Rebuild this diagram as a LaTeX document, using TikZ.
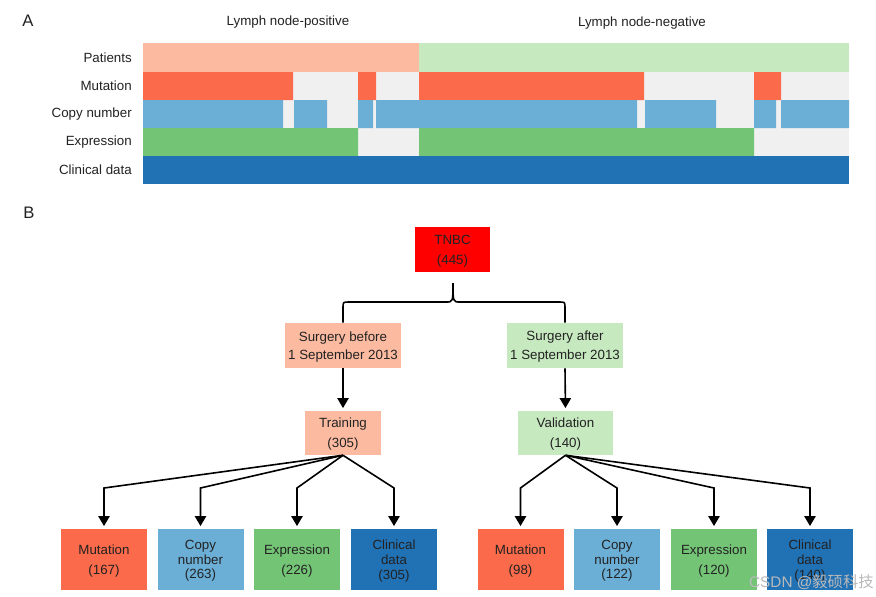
\documentclass[tikz,border=0pt]{standalone}
\usepackage{fontspec}
\setmainfont{Liberation Sans}
\newfontfamily\cjkfont{Noto Sans CJK SC}
\usetikzlibrary{arrows.meta}

\definecolor{poscol}{HTML}{FCBBA1}
\definecolor{negcol}{HTML}{C7E9C0}
\definecolor{mutcol}{HTML}{FB6A4A}
\definecolor{cnvcol}{HTML}{6BAED6}
\definecolor{expcol}{HTML}{74C476}
\definecolor{clincol}{HTML}{2171B5}
\definecolor{nacol}{HTML}{F0F0F0}
\definecolor{tnbccol}{HTML}{FF0000}
\definecolor{txtcol}{HTML}{222222}

\newcommand{\pxscl}{0.75}
\newcommand{\px}[1]{#1*\pxscl*1pt}
\newcommand{\fsz}{\fontsize{10}{15}\selectfont}
\newcommand{\fszs}{\fontsize{10}{11}\selectfont}
\newcommand{\lbl}{\node[anchor=east, text=txtcol, font=\fsz, inner sep=0pt]}
\newcommand{\ttl}{\node[text=txtcol, font=\fsz, inner sep=0pt]}
\newcommand{\bx}[3]{\node[rectangle, fill=#1, minimum width=\px{#2}, minimum height=\px{#3}, inner sep=0pt, text depth=-1.5pt, align=center, text=txtcol]}

\tikzset{
    arr/.style={-{Triangle[width=8.5pt, length=7.5pt]}, line width=1.2pt, shorten >=2pt},
    brace/.style={line width=1.2pt}
}

\begin{document}
\begin{tikzpicture}[x=0.75pt, y=-0.75pt]
            \useasboundingbox[fill=white] (0,0) rectangle (876,597);

            % panel A
            \node[font=\fontsize{12.5}{14}\selectfont, text=txtcol] (pa) at (28,21) {A};
            \ttl (pos) at (288,22) {Lymph node-positive};
            \ttl (neg) at (642,23) {Lymph node-negative};
            \lbl (lpat) at (132,57.5) {Patients};
            \lbl (lmut) at (132,86) {Mutation};
            \lbl (lcnv) at (132,114) {Copy number};
            \lbl (lexp) at (132,142) {Expression};
            \lbl (lcli) at (132,170) {Clinical data};

            \fill[poscol] (143,43) rectangle (419,72);
            \fill[negcol] (419,43) rectangle (849,72);
            \fill[nacol] (143,72) rectangle (849,156);
            \fill[mutcol]
                (143,72) rectangle (293,100)
                (358,72) rectangle (376,100)
                (419,72) rectangle (644,100)
                (754,72) rectangle (781,100)
                ;
            \fill[cnvcol]
                (143,100) rectangle (283,128)
                (294,100) rectangle (327,128)
                (358,100) rectangle (373,128)
                (376,100) rectangle (637,128)
                (645,100) rectangle (716,128)
                (754,100) rectangle (776,128)
                (781,100) rectangle (849,128)
                ;
            \fill[expcol]
                (143,128) rectangle (358,156)
                (419,128) rectangle (754,156)
                ;
            \fill[clincol] (143,156) rectangle (849,184);

            % panel B
            \node[font=\fontsize{12.5}{14}\selectfont, text=txtcol] (pb) at (29,213) {B};
            \bx{tnbccol}{75}{45} (tnbc) at (452.5,249.5) [font=\fsz] {TNBC\\(445)};
            \bx{poscol}{116}{45} (sb) at (343,345.5) [font=\fontsize{10}{14}\selectfont] {Surgery before\\1 September 2013};
            \bx{negcol}{116}{45} (sa) at (565,345.5) [font=\fontsize{10}{14}\selectfont] {Surgery after\\1 September 2013};
            \bx{poscol}{76}{44} (tr) at (343,433) [font=\fsz] {Training\\(305)};
            \bx{negcol}{95}{44} (va) at (565.5,433) [font=\fsz] {Validation\\(140)};

            \bx{mutcol}{86}{61} (tmut) at (104,559.5) [font=\fsz] {Mutation\\(167)};
            \bx{cnvcol}{86}{61} (tcnv) at (200.5,559.5) [font=\fszs] {Copy\\number\\(263)};
            \bx{expcol}{86}{61} (texp) at (297,559.5) [font=\fsz] {Expression\\(226)};
            \bx{clincol}{86}{61} (tcli) at (394,559.5) [font=\fszs] {Clinical\\data\\(305)};

            \bx{mutcol}{86}{61} (vmut) at (520.5,559.5) [font=\fsz] {Mutation\\(98)};
            \bx{cnvcol}{86}{61} (vcnv) at (617,559.5) [font=\fszs] {Copy\\number\\(122)};
            \bx{expcol}{86}{61} (vexp) at (714,559.5) [font=\fsz] {Expression\\(120)};
            \bx{clincol}{86}{61} (vcli) at (810,559.5) [font=\fszs] {Clinical\\data\\(140)};

            \coordinate (tip) at (453,283);
            \coordinate (kink) at (0,488);

            \draw[brace]
                (sb.north) -- (343,308) .. controls (343,302) .. (349,302)
                -- (446,302) .. controls (453,302) .. (tip)
                .. controls (453,302) .. (460,302)
                -- (559,302) .. controls (565,302) .. (565,308) -- (sa.north)
                ;

            \draw[arr] (sb.south) -- (tr.north);
            \draw[arr] (sa.south) -- (va.north);

            \draw[arr] (tr.south) -- (tmut.north |- kink) -- (tmut.north);
            \draw[arr] (tr.south) -- (tcnv.north |- kink) -- (tcnv.north);
            \draw[arr] (tr.south) -- (texp.north |- kink) -- (texp.north);
            \draw[arr] (tr.south) -- (tcli.north |- kink) -- (tcli.north);
            \draw[arr] (va.south) -- (vmut.north |- kink) -- (vmut.north);
            \draw[arr] (va.south) -- (vcnv.north |- kink) -- (vcnv.north);
            \draw[arr] (va.south) -- (vexp.north |- kink) -- (vexp.north);
            \draw[arr] (va.south) -- (vcli.north |- kink) -- (vcli.north);

            \node[anchor=east, text=gray!55, font=\fontsize{11.5}{13}\selectfont, inner sep=0pt] (wm) at (874,582) {CSDN @{\cjkfont 毅硕科技}};
        \end{tikzpicture}
\end{document}
